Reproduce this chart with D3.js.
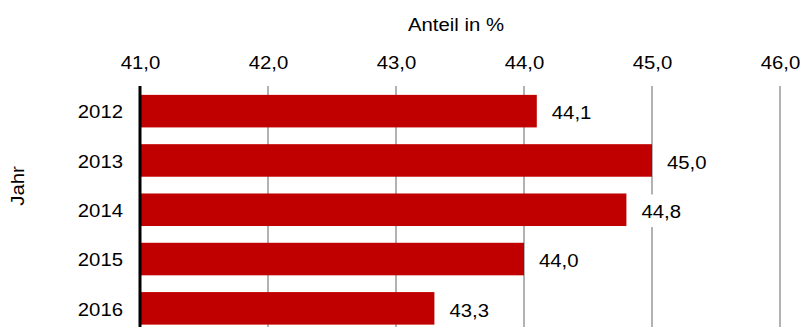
<!DOCTYPE html>
<html>
<head>
<meta charset="utf-8">
<script src="https://cdn.jsdelivr.net/npm/d3@7"></script>
<style>
  html, body { margin: 0; padding: 0; background: #fff; }
  svg { display: block; font-family: "Liberation Sans", Arial, sans-serif; }
</style>
</head>
<body>
<svg id="chart" width="802" height="327"></svg>
<script>
const years = ["2012", "2013", "2014", "2015", "2016"];
const values = [44.1, 45.0, 44.8, 44.0, 43.3];
const xTicks = [41, 42, 43, 44, 45, 46];
const xTitle = "Anteil in %";
const yTitle = "Jahr";

const locale = d3.formatLocale({ decimal: ",", thousands: ".", grouping: [3], currency: ["", " €"] });
const fmt = locale.format(".1f");

const svg = d3.select("#chart");
const W = 802, H = 327;
const mLeft = 140, mRight = 780, mTop = 86, mBottom = 333.5;

const x = d3.scaleLinear().domain([41, 46]).range([mLeft, mRight]);
const y = d3.scaleBand().domain(years).range([mTop, mBottom]).paddingInner(0.34).paddingOuter(0.18);

const fontSize = 18, sx = 1.13;
const stretch = `scale(${sx},1)`;

// gridlines
svg.append("g").selectAll("line").data(xTicks.slice(1)).join("line")
  .attr("x1", d => x(d)).attr("x2", d => x(d))
  .attr("y1", mTop).attr("y2", H)
  .attr("stroke", "#999").attr("stroke-width", 1.5);

// top axis labels
const xAxis = d3.axisTop(x).tickValues(xTicks).tickFormat(fmt).tickSize(0).tickPadding(0);
const gx = svg.append("g").attr("transform", `translate(0,${69.3})`).call(xAxis);
gx.select(".domain").remove();
gx.selectAll("text").attr("font-size", fontSize).attr("transform", stretch)
  .attr("fill", "#000").attr("font-family", "Liberation Sans, Arial, sans-serif").attr("dy", 0);

// x title
svg.append("g").attr("transform", `translate(${(mLeft + mRight) / 2 - 4},31)`)
  .append("text").attr("text-anchor", "middle").attr("font-size", fontSize)
  .attr("transform", stretch).text(xTitle);

// bars
svg.append("g").selectAll("rect").data(years).join("rect")
  .attr("x", x(41)).attr("y", d => y(d))
  .attr("width", (d, i) => x(values[i]) - x(41))
  .attr("height", y.bandwidth())
  .attr("fill", "#c00000");

// value labels with white background
const lab = svg.append("g").selectAll("g").data(years).join("g")
  .attr("transform", (d, i) => `translate(${x(values[i]) + 15},${y(d) + y.bandwidth() / 2 + 2})`);
lab.append("rect").attr("x", -8).attr("y", -y.bandwidth() / 2 - 1)
  .attr("width", 58).attr("height", y.bandwidth()).attr("fill", "#fff");
lab.append("text").attr("dy", "0.35em").attr("font-size", fontSize).attr("transform", stretch)
  .text((d, i) => fmt(values[i]));

// y axis
const yAxis = d3.axisLeft(y).tickSize(0).tickPadding(17 / sx);
const gy = svg.append("g").attr("transform", `translate(${mLeft},0)`).call(yAxis);
gy.select(".domain").remove();
gy.selectAll("text").attr("font-size", fontSize).attr("transform", stretch)
  .attr("fill", "#000").attr("font-family", "Liberation Sans, Arial, sans-serif").attr("dy", "0.4em");

// axis line
svg.append("line").attr("x1", mLeft).attr("x2", mLeft).attr("y1", mTop).attr("y2", H)
  .attr("stroke", "#000").attr("stroke-width", 3);

// y title
svg.append("text").attr("transform", `translate(24,186) rotate(-90) ${stretch}`)
  .attr("text-anchor", "middle").attr("font-size", fontSize)
  .text(yTitle);
</script>
</body>
</html>
